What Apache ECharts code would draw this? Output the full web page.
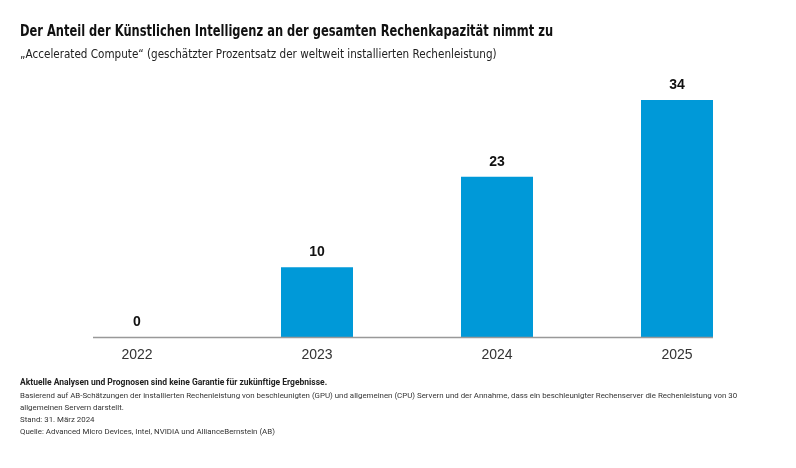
<!DOCTYPE html>
<html><head><meta charset="utf-8">
<script src="https://cdn.jsdelivr.net/npm/echarts@6/dist/echarts.min.js"></script>
<style>html,body{margin:0;padding:0;background:#fff}#c{width:796px;height:468px}</style>
</head><body><div id="c"></div>
<script>
const categories = ['2022', '2023', '2024', '2025'];
const values = [0, 10, 23, 34];
const titleText = 'Der Anteil der Künstlichen Intelligenz an der gesamten Rechenkapazität nimmt zu';
const subtitleText = '„Accelerated Compute“ (geschätzter Prozentsatz der weltweit installierten Rechenleistung)';
const noteBold = 'Aktuelle Analysen und Prognosen sind keine Garantie für zukünftige Ergebnisse.';
const noteLines = [
  'Basierend auf AB-Schätzungen der installierten Rechenleistung von beschleunigten (GPU) und allgemeinen (CPU) Servern und der Annahme, dass ein beschleunigter Rechenserver die Rechenleistung von 30',
  'allgemeinen Servern darstellt.',
  'Stand: 31. März 2024',
  'Quelle: Advanced Micro Devices, Intel, NVIDIA und AllianceBernstein (AB)'
];
const narrow = '"DejaVu Sans Condensed", "Roboto", sans-serif';
const chart = echarts.init(document.getElementById('c'));
chart.setOption({
  animation: false,
  grid: {left: 47, right: 29, top: 100, bottom: 131},
  xAxis: {
    type: 'category', data: categories,
    axisLine: {show: false}, axisTick: {show: false},
    axisLabel: {fontFamily: 'Liberation Sans, Arial, sans-serif', fontSize: 14, color: '#333', margin: 11}
  },
  yAxis: {type: 'value', min: 0, max: 34, show: false, splitLine: {show: false}},
  series: [{
    type: 'bar', data: values, barWidth: 72,
    itemStyle: {color: '#0099D8'},
    label: {show: true, position: 'top', distance: 8, fontFamily: 'Liberation Sans, Arial, sans-serif', fontWeight: 'bold', fontSize: 14, color: '#111'}
  }]
});
const p0 = chart.convertToPixel({xAxisIndex: 0, yAxisIndex: 0}, [0, 0]);
const p3 = chart.convertToPixel({xAxisIndex: 0, yAxisIndex: 0}, [3, 0]);
function txt(text, x, y, sx, font, size, weight, color) {
  return {type: 'text', x: x, y: y, scaleX: sx, silent: true,
    style: {text: text, fontFamily: font, fontSize: size, fontWeight: weight, fill: color, verticalAlign: 'middle', align: 'left'}};
}
const g = [
  {type: 'line', shape: {x1: p0[0] - 44, y1: p0[1] + 0.5, x2: p3[0] + 36, y2: p3[1] + 0.5}, style: {stroke: '#999', lineWidth: 1.5}, z: 10},
  txt(titleText, 20, 32, 0.85, narrow, 15, 'bold', '#111'),
  txt(subtitleText, 20, 55, 0.965, narrow, 12, 'normal', '#222'),
  txt(noteBold, 20, 383, 1, 'Roboto, sans-serif', 8.5, 'bold', '#222')
];
const noteY = [396, 408, 420, 432];
noteLines.forEach((t, i) => g.push(txt(t, 20, noteY[i], 0.985, 'Roboto, sans-serif', 8, 'normal', '#333')));
chart.setOption({graphic: g});
</script></body></html>
